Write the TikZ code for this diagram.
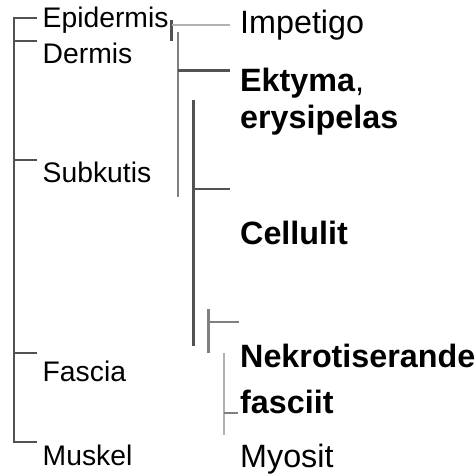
\documentclass[tikz,border=0pt]{standalone}
\usepackage{fontspec}
\setmainfont{Liberation Sans}
\begin{document}
\begin{tikzpicture}[x=1pt,y=-1pt,
  lbl/.style={anchor=base west,inner sep=0pt,font=\fontsize{28.3}{32}\selectfont},
  rlbl/.style={anchor=base west,inner sep=0pt,font=\fontsize{32.3}{36}\selectfont},
  dk/.style={draw=black!68,line width=2.2pt},
  md/.style={draw=black!50,line width=2.6pt},
  lt/.style={draw=black!30,line width=2.2pt}]
\useasboundingbox[fill=white] (0,0) rectangle (476,474);
% left labels
\node[lbl] (epi) at (42.5,27) {Epidermis};
\node[lbl] (der) at (42.5,63) {Dermis};
\node[lbl] (sub) at (42.5,182) {Subkutis};
\node[lbl] (fas) at (42.5,381) {Fascia};
\node[lbl] (mus) at (42.5,465) {Muskel};
% right labels
\node[rlbl] (imp) at (240,33) {Impetigo};
\node[rlbl] (ekt) at (240,91) {\textbf{Ektyma},};
\node[rlbl] (ery) at (240,128.5) {\textbf{erysipelas}};
\node[rlbl] (cel) at (240,244) {\textbf{Cellulit}};
\node[rlbl] (nek) at (240,367) {\textbf{Nekrotiserande}};
\node[rlbl] (fsc) at (240,413) {\textbf{fasciit}};
\node[rlbl] (myo) at (240,467) {Myosit};
% left bracket
\draw[dk] (37,18) -- (14,18) -- (14,442) -- (37,442);
\draw[dk] (14,41) -- (37,41);
\draw[dk] (14,160) -- (37,160);
\draw[dk] (14,353) -- (37,353);
% Impetigo
\draw[dk] (171.5,20) -- (171.5,41);
\draw[lt] (171.5,25) -- (230,25);
% Ektyma / erysipelas
\draw[md] (178,32) -- (178,197);
\draw[dk] (178,70.5) -- (230,70.5);
% Cellulit
\draw[dk] (193.5,100) -- (193.5,346);
\draw[dk] (193.5,189) -- (230,189);
% Nekrotiserande
\draw[md] (208.5,309) -- (208.5,353);
\draw[md] (208.5,322) -- (239,322);
% fasciit
\draw[lt] (224,353) -- (224,435);
\draw[md] (224,413) -- (238,413);
\end{tikzpicture}
\end{document}
